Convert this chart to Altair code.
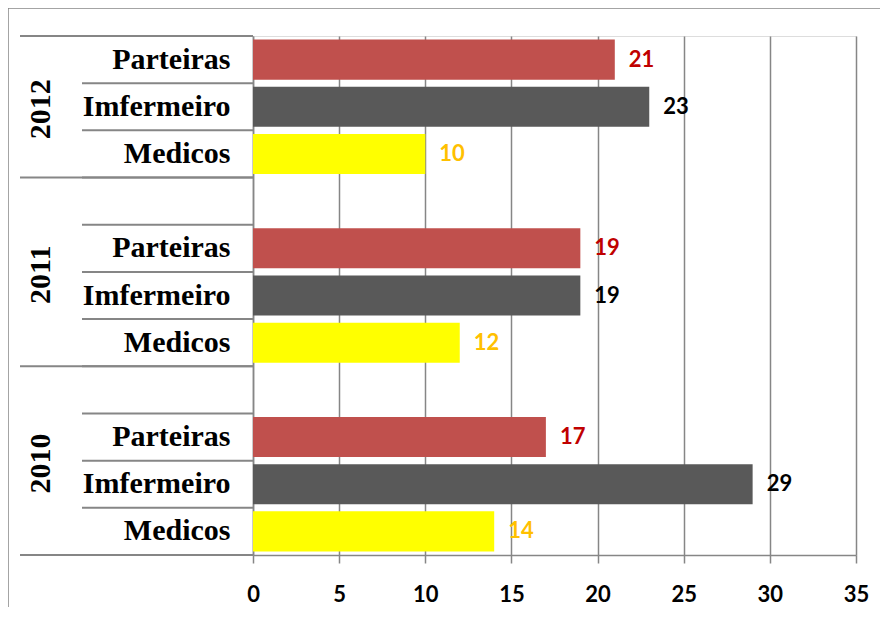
import altair as alt
import pandas as pd

years = ["2012", "2011", "2010"]
roles = ["Parteiras", "Imfermeiro", "Medicos"]
parteiras = [21, 19, 17]
imfermeiro = [23, 19, 29]
medicos = [10, 12, 14]
x_ticks = [0, 5, 10, 15, 20, 25, 30, 35]

bar_colors = ["#C0504D", "#595959", "#FFFF00"]
label_colors = ["#C00000", "#000000", "#FFC000"]
GRAY = "#868686"

# slot order (top to bottom); 2011 and 2010 start with an empty slot
order = []
for i, y in enumerate(years):
    if i > 0:
        order.append(f"{y}|")
    for r in roles:
        order.append(f"{y}|{r}")

rows = []
for i, y in enumerate(years):
    for r, vals in zip(roles, [parteiras, imfermeiro, medicos]):
        rows.append({"key": f"{y}|{r}", "year": y, "role": r, "value": vals[i]})
bars_df = pd.DataFrame(rows)

yscale = alt.Scale(domain=order, paddingInner=0, paddingOuter=0)
yaxis = alt.Axis(title=None, ticks=False, domainColor=GRAY, domainWidth=1.5,
                 labelExpr="split(datum.label, '|')[1]", labelFont="Liberation Serif",
                 labelFontSize=30, labelFontWeight="bold", labelColor="#000000",
                 labelPadding=23, labelAlign="right", labelOverlap=False, labelBound=False)

base = alt.Chart(bars_df)

bars = base.mark_bar(height={"band": 0.85}).encode(
    x=alt.X("value:Q", scale=alt.Scale(domain=[0, 35], nice=False),
            axis=alt.Axis(values=x_ticks, title=None, grid=True, gridColor=GRAY, gridWidth=1.5,
                          domainColor=GRAY, domainWidth=1.5, tickColor=GRAY, tickWidth=1.5,
                          tickSize=8, labelFont="Lato", labelFontSize=22, labelFontWeight="bold",
                          labelColor="#000000", labelPadding=21, labelFlush=False)),
    y=alt.Y("key:N", sort=order, scale=yscale, axis=yaxis),
    color=alt.Color("role:N", scale=alt.Scale(domain=roles, range=bar_colors), legend=None),
)

labels = base.mark_text(align="left", baseline="middle", dx=14, font="Lato",
                        fontSize=22, fontWeight="bold").encode(
    x="value:Q",
    y=alt.Y("key:N", sort=order, scale=yscale, axis=yaxis),
    text="value:Q",
    color=alt.Color("role:N", scale=alt.Scale(domain=roles, range=label_colors), legend=None),
)

# separator lines of the category axis
short_df = pd.DataFrame({"key": order})
short_top = alt.Chart(short_df).mark_rule(color=GRAY, strokeWidth=2).encode(
    y=alt.Y("key:N", sort=order, scale=yscale, axis=yaxis, bandPosition=0),
    x=alt.value(-171), x2=alt.value(0),
)
group_first = pd.DataFrame({"key": [order[0], "2011|", "2010|"]})
long_top = alt.Chart(group_first).mark_rule(color=GRAY, strokeWidth=2).encode(
    y=alt.Y("key:N", sort=order, scale=yscale, axis=yaxis, bandPosition=0),
    x=alt.value(-233), x2=alt.value(0),
)
last_df = pd.DataFrame({"key": [order[-1]]})
long_bottom = alt.Chart(last_df).mark_rule(color=GRAY, strokeWidth=2).encode(
    y=alt.Y("key:N", sort=order, scale=yscale, axis=yaxis, bandPosition=1),
    x=alt.value(-233), x2=alt.value(0),
)

# year labels
y2012 = alt.Chart(pd.DataFrame({"key": ["2012|Imfermeiro"], "year": ["2012"]})).mark_text(
    angle=270, align="center", baseline="middle", font="Liberation Serif",
    fontSize=30, fontWeight="bold", color="#000000").encode(
    y=alt.Y("key:N", sort=order, scale=yscale, axis=yaxis, bandPosition=0.55),
    x=alt.value(-212), text="year:N",
)
yrest = alt.Chart(pd.DataFrame({"key": ["2011|Imfermeiro", "2010|Imfermeiro"],
                                "year": ["2011", "2010"]})).mark_text(
    angle=270, align="center", baseline="middle", font="Liberation Serif",
    fontSize=30, fontWeight="bold", color="#000000").encode(
    y=alt.Y("key:N", sort=order, scale=yscale, axis=yaxis, bandPosition=0.06),
    x=alt.value(-212), text="year:N",
)

# outer frame (top and left edges)
frame_top = alt.Chart(short_df.head(1)).mark_rule(color=GRAY, strokeWidth=1.5).encode(
    x=alt.value(-245), x2=alt.value(627), y=alt.value(-28))
frame_left = alt.Chart(short_df.head(1)).mark_rule(color=GRAY, strokeWidth=1.5).encode(
    x=alt.value(-245), y=alt.value(-28), y2=alt.value(573))

chart = alt.layer(
    frame_top, frame_left, short_top, long_top, long_bottom, bars, labels, y2012, yrest
).resolve_scale(color="independent").properties(
    width=603, height=519,
    padding={"left": 245, "top": 28, "right": 24, "bottom": 52},
    autosize=alt.AutoSizeParams(type="none"),
).configure_view(stroke=None).configure(background="white")

chart.save("out.html", embed_options={"renderer": "svg", "actions": False})
